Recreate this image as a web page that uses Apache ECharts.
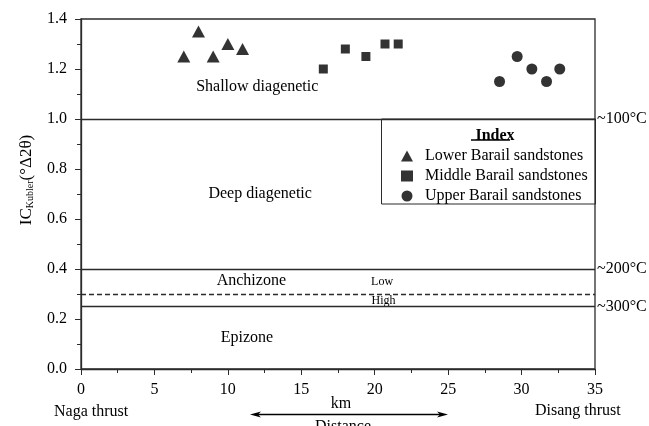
<!DOCTYPE html>
<html>
<head>
<meta charset="utf-8">
<script src="https://cdn.jsdelivr.net/npm/echarts@6/dist/echarts.min.js"></script>
<style>
html, body { margin: 0; padding: 0; background: #fff; }
#main { width: 649px; height: 426px; }
</style>
</head>
<body>
<div id="main"></div>
<script>
// sample points
const lowerX = [7, 8, 9, 10, 11];
const lowerY = [1.25, 1.35, 1.25, 1.30, 1.28];
const middleX = [16.5, 18, 19.4, 20.7, 21.6];
const middleY = [1.20, 1.28, 1.25, 1.30, 1.30];
const upperX = [28.5, 29.7, 30.7, 31.7, 32.6];
const upperY = [1.15, 1.25, 1.20, 1.15, 1.20];
const seriesNames = ['Lower Barail sandstones', 'Middle Barail sandstones', 'Upper Barail sandstones'];

// zone boundaries + temperature labels on the right
const boundaryValues = [1.0, 0.4, 0.3, 0.25];
const boundaryLabels = ['~100°C', '~200°C', '', '~300°C'];

// zone names inside the plot
const zoneNames = ['Shallow diagenetic', 'Deep diagenetic', 'Anchizone', 'Low', 'High', 'Epizone'];
const zoneX = [12, 12.2, 11.6, 20.5, 20.6, 11.3];
const zoneY = [1.13, 0.70, 0.352, 0.349, 0.272, 0.124];

// axes
const xMin = 0, xMax = 35, xStep = 5;
const yMin = 0, yMax = 1.4, yStep = 0.2;

const FONT = '"Liberation Serif", "Times New Roman", serif';
const LINE = '#2b2b2b';

const zip = (xs, ys) => xs.map((x, i) => [x, ys[i]]);

const chart = echarts.init(document.getElementById('main'));

const option = {
    animation: false,
    backgroundColor: '#fff',
    textStyle: { fontFamily: FONT, color: '#000' },
    grid: {
        left: 81, right: 54, top: 19, bottom: 57,
        show: true, borderColor: LINE, borderWidth: 1.3, backgroundColor: 'transparent'
    },
    title: {
        text: 'Index',
        left: 490, top: 123,
        textAlign: 'center',
        textStyle: { fontFamily: FONT, fontSize: 16, fontWeight: 'bold', color: '#000' }
    },
    legend: {
        data: seriesNames,
        orient: 'vertical',
        left: 396, top: 143,
        itemWidth: 12, itemHeight: 11,
        itemGap: 4,
        selectedMode: false,
        textStyle: { fontFamily: FONT, fontSize: 16, color: '#000', lineHeight: 16, padding: [0, 0, 0, 7] }
    },
    xAxis: {
        type: 'value',
        min: xMin, max: xMax, interval: xStep,
        axisLine: { show: true, lineStyle: { color: LINE, width: 1.3 } },
        axisTick: { show: true, inside: false, length: 6, lineStyle: { color: LINE } },
        minorTick: { show: true, splitNumber: 2, length: 4, lineStyle: { color: LINE } },
        axisLabel: { fontFamily: FONT, fontSize: 16, color: '#000', margin: 13 },
        splitLine: { show: false }
    },
    yAxis: {
        type: 'value',
        min: yMin, max: yMax, interval: yStep,
        name: '{m|IC}{s|Kubler}{m|(°Δ2θ)}',
        nameLocation: 'middle',
        nameRotate: 90,
        nameGap: 46,
        nameTextStyle: {
            padding: [0, 0, 0, 28],
            rich: {
                m: { fontFamily: FONT, fontSize: 17, color: '#000' },
                s: { fontFamily: FONT, fontSize: 10, color: '#000', verticalAlign: 'bottom', padding: [7, 0, 0, 0] }
            }
        },
        axisLine: { show: true, lineStyle: { color: LINE, width: 1.3 } },
        axisTick: { show: true, inside: false, length: 6, lineStyle: { color: LINE } },
        minorTick: { show: true, splitNumber: 2, length: 4, lineStyle: { color: LINE } },
        axisLabel: {
            fontFamily: FONT, fontSize: 16, color: '#000', margin: 14,
            formatter: (v) => v.toFixed(1)
        },
        splitLine: { show: false }
    },
    graphic: [
        // legend frame
        { type: 'rect', shape: { x: 381.5, y: 119, width: 214, height: 85 },
          style: { fill: 'none', stroke: LINE, lineWidth: 1 }, z: 5 },
        // underline for "Index"
        { type: 'line', shape: { x1: 471, y1: 140, x2: 510, y2: 140 },
          style: { stroke: '#000', lineWidth: 1.3 }, z: 5 },
        // bottom captions
        { type: 'text', x: 341, y: 404,
          style: { text: 'km', font: '16px ' + FONT, fill: '#000', align: 'center', verticalAlign: 'middle' } },
        { type: 'text', left: 54, top: 404,
          style: { text: 'Naga thrust', font: '16px ' + FONT, fill: '#000' } },
        { type: 'text', left: 535, top: 403,
          style: { text: 'Disang thrust', font: '16px ' + FONT, fill: '#000' } },
        { type: 'text', left: 315, top: 419,
          style: { text: 'Distance', font: '16px ' + FONT, fill: '#000' } },
        // double arrow
        { type: 'line', shape: { x1: 256, y1: 414.5, x2: 442, y2: 414.5 },
          style: { stroke: '#000', lineWidth: 1.3 } },
        { type: 'polygon', shape: { points: [[250, 414.5], [261, 411.5], [258, 414.5], [261, 417.5]] },
          style: { fill: '#000' } },
        { type: 'polygon', shape: { points: [[448, 414.5], [437, 411.5], [440, 414.5], [437, 417.5]] },
          style: { fill: '#000' } }
    ],
    series: [
        {
            name: seriesNames[0], type: 'scatter', symbol: 'triangle', symbolSize: [13, 12],
            itemStyle: { color: '#000' }, data: zip(lowerX, lowerY), z: 3
        },
        {
            name: seriesNames[1], type: 'scatter', symbol: 'rect', symbolSize: 9,
            itemStyle: { color: '#000' }, data: zip(middleX, middleY), z: 3
        },
        {
            name: seriesNames[2], type: 'scatter', symbol: 'circle', symbolSize: 11,
            itemStyle: { color: '#000' }, data: zip(upperX, upperY), z: 3
        },
        {
            // zone boundaries
            type: 'line', data: [], silent: true,
            markLine: {
                symbol: 'none', silent: true,
                data: boundaryValues.map((v, i) => ({
                    yAxis: v,
                    name: boundaryLabels[i],
                    lineStyle: {
                        color: LINE, width: 1.3,
                        type: boundaryLabels[i] ? 'solid' : [5, 3]
                    },
                    label: { show: !!boundaryLabels[i] }
                })),
                label: {
                    position: 'end', distance: 2, formatter: '{b}',
                    fontFamily: FONT, fontSize: 16, color: '#000'
                }
            }
        },
        {
            // zone names
            type: 'scatter', symbolSize: 0, silent: true,
            itemStyle: { color: '#fff', opacity: 1 },
            data: zoneNames.map((n, i) => ({
                name: n,
                value: [zoneX[i], zoneY[i]],
                label: { fontSize: (n === 'Low' || n === 'High') ? 12 : 16 }
            })),
            label: {
                show: true, position: 'inside', formatter: '{b}',
                fontFamily: FONT, color: '#000', opacity: 1, textBorderWidth: 0
            }
        }
    ]
};

chart.setOption(option);
</script>
</body>
</html>
